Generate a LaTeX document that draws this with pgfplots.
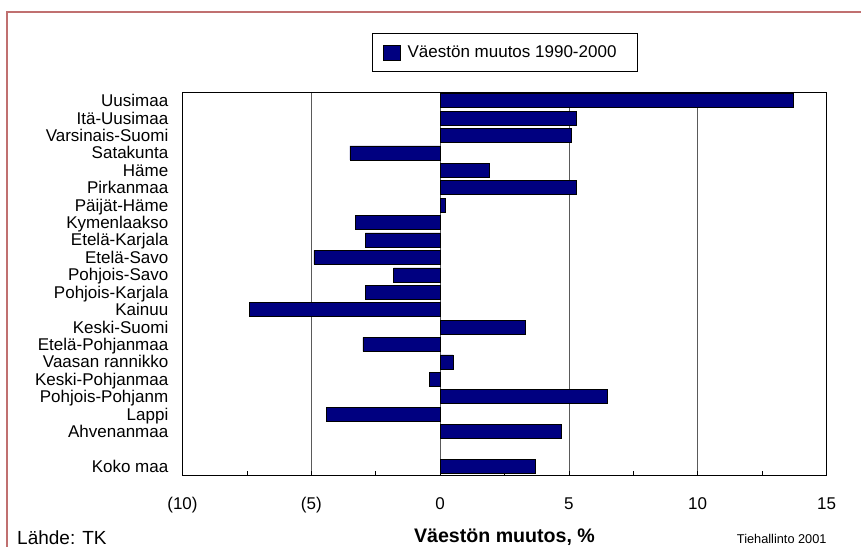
\documentclass[border=0pt]{standalone}
\usepackage{fontspec}
\setmainfont{Liberation Sans}
\usepackage{pgfplots}
\pgfplotsset{compat=1.18}
\definecolor{barnavy}{RGB}{0,0,128}
\definecolor{framered}{RGB}{192,112,112}
\definecolor{gridgray}{RGB}{90,90,90}
\begin{document}
\begin{tikzpicture}
\useasboundingbox (0,0) rectangle (861bp,-547bp);
\fill[white] (0,0) rectangle (861bp,-547bp);
\draw[framered, line width=1.6bp] (7bp,-560bp) -- (7bp,-12bp) -- (870bp,-12bp);
\begin{axis}[
  at={(182.5bp,-475bp)}, anchor=south west,
  width=644bp, height=383bp, scale only axis,
  xbar, bar width=14bp, bar shift=0pt,
  xmin=-10, xmax=15, ymin=-0.5, ymax=21.5,
  y dir=reverse,
  axis line style={black, line width=0.9bp},
  xtick={-10,-5,0,5,10,15},
  xticklabels={(10),(5),0,5,10,15},
  minor xtick={-7.5,-2.5,2.5,7.5,12.5},
  xtick pos=bottom, tick align=inside,
  major tick length=4bp, minor tick length=4bp,
  tick style={black, line width=0.8bp},
  xmajorgrids, major grid style={gridgray, line width=0.8bp},
  ytick={0,1,2,3,4,5,6,7,8,9,10,11,12,13,14,15,16,17,18,19,21},
  yticklabels={Uusimaa,Itä-Uusimaa,Varsinais-Suomi,Satakunta,Häme,Pirkanmaa,Päijät-Häme,Kymenlaakso,Etelä-Karjala,Etelä-Savo,Pohjois-Savo,Pohjois-Karjala,Kainuu,Keski-Suomi,Etelä-Pohjanmaa,Vaasan rannikko,Keski-Pohjanmaa,Pohjois-Pohjanm,Lappi,Ahvenanmaa,Koko maa},
  ytick style={draw=none},
  yticklabel style={anchor=base east, inner sep=0pt, xshift=-14bp, yshift=-6bp, font=\fontsize{17bp}{20bp}\selectfont},
  xticklabel style={anchor=base, inner sep=0pt, yshift=-34bp, font=\fontsize{17bp}{20bp}\selectfont},
  xlabel={\textbf{Väestön muutos, \%}},
  xlabel style={at={(axis description cs:0.5,0)}, anchor=base, inner sep=0pt, yshift=-67bp, font=\fontsize{19.6bp}{22bp}\selectfont},
  legend style={at={(axis description cs:0.2943,1)}, anchor=south west, yshift=20bp,
    draw=black, line width=0.8bp, fill=white,
    inner xsep=10.7bp, inner ysep=11.5bp,
    font=\fontsize{17bp}{20bp}\selectfont,
    nodes={inner sep=0pt}},
  legend image code/.code={\draw[fill=barnavy, draw=black, line width=0.5bp] (0bp,-7.5bp) rectangle (16.6bp,7.5bp);},
]
\addplot[fill=barnavy, draw=black, line width=0.6bp] coordinates {
(13.7,0) (5.3,1) (5.1,2) (-3.5,3) (1.9,4) (5.3,5) (0.2,6) (-3.3,7) (-2.9,8) (-4.9,9)
(-1.8,10) (-2.9,11) (-7.4,12) (3.3,13) (-3.0,14) (0.5,15) (-0.4,16) (6.5,17) (-4.4,18) (4.7,19)
(3.7,21)};
\addlegendentry{\rule{7.4bp}{0pt}Väestön muutos 1990-2000\rule{10bp}{0pt}}
\end{axis}
\node[anchor=base west, inner sep=0pt, font=\fontsize{19bp}{22bp}\selectfont] at (17bp,-544bp) {Lähde: TK};
\node[anchor=base east, inner sep=0pt, font=\fontsize{12.75bp}{15bp}\selectfont] at (826.7bp,-543bp) {Tiehallinto 2001};
\end{tikzpicture}
\end{document}
